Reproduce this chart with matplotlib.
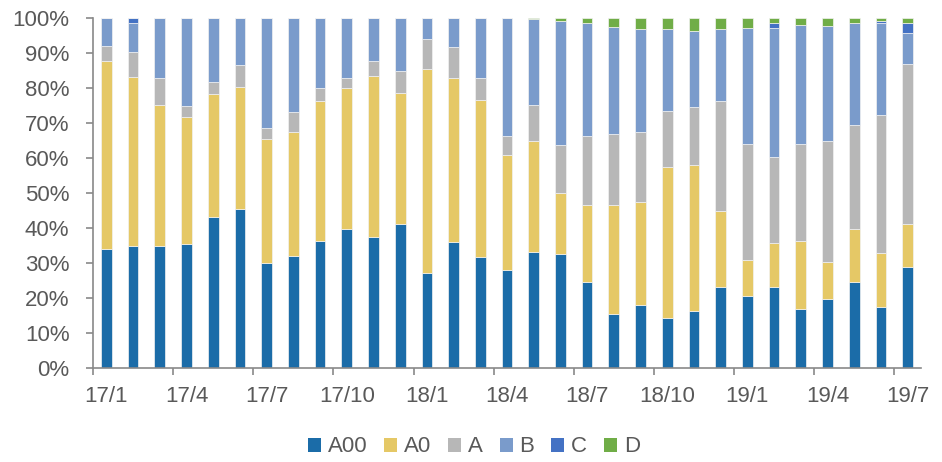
import numpy as np
import matplotlib
matplotlib.use("Agg")
import matplotlib.pyplot as plt
from matplotlib.patches import Patch

plt.rcParams['font.family'] = ['Liberation Sans', 'DejaVu Sans']

months = ['17/1', '17/2', '17/3', '17/4', '17/5', '17/6', '17/7', '17/8', '17/9', '17/10', '17/11', '17/12',
          '18/1', '18/2', '18/3', '18/4', '18/5', '18/6', '18/7', '18/8', '18/9', '18/10', '18/11', '18/12',
          '19/1', '19/2', '19/3', '19/4', '19/5', '19/6', '19/7']
tick_labels = ['17/1', '17/4', '17/7', '17/10', '18/1', '18/4', '18/7', '18/10', '19/1', '19/4', '19/7']

# share of each class, %
a00 = [33.9, 34.8, 34.9, 35.5, 43.2, 45.4, 30.1, 32.1, 36.2, 39.8, 37.3, 41.2, 27.2, 36.1, 31.6, 28.1,
       33.2, 32.5, 24.7, 15.5, 18.1, 14.4, 16.3, 23.2, 20.7, 23.2, 16.9, 19.7, 24.5, 17.3, 28.8]
a0 = [53.8, 48.4, 40.2, 36.3, 35.0, 34.9, 35.3, 35.2, 40.1, 40.3, 46.2, 37.4, 58.3, 46.7, 45.0, 32.8,
      31.7, 17.4, 22.0, 31.2, 29.2, 42.9, 41.6, 21.8, 10.1, 12.5, 19.4, 10.6, 15.2, 15.6, 12.4]
a = [4.2, 7.2, 7.7, 3.2, 3.6, 6.3, 3.2, 5.7, 3.7, 2.8, 4.2, 6.4, 8.5, 8.9, 6.3, 5.4,
     10.2, 13.8, 19.6, 20.2, 20.0, 16.1, 16.7, 31.4, 33.2, 24.6, 27.6, 34.6, 29.7, 39.4, 45.7]
b = [8.1, 8.3, 17.2, 25.0, 18.2, 13.4, 31.4, 27.0, 20.0, 17.1, 12.3, 15.0, 6.0, 8.3, 17.1, 33.7,
     24.6, 35.5, 32.3, 30.4, 29.6, 23.5, 21.6, 20.5, 33.2, 36.8, 34.0, 32.9, 29.2, 26.3, 8.8]
c = [0, 1.3, 0, 0, 0, 0, 0, 0, 0, 0, 0, 0, 0, 0, 0, 0,
     0, 0, 0, 0, 0, 0, 0, 0, 0, 1.4, 0, 0, 0, 0.6, 3.0]
d = [0, 0, 0, 0, 0, 0, 0, 0, 0, 0, 0, 0, 0, 0, 0, 0,
     0.3, 0.8, 1.4, 2.7, 3.1, 3.1, 3.8, 3.1, 2.8, 1.4, 2.1, 2.2, 1.4, 0.8, 1.3]

series = [('A00', a00, '#1b6ca8'), ('A0', a0, '#e5c866'), ('A', a, '#b7b7b7'),
          ('B', b, '#7a9bcb'), ('C', c, '#4472c4'), ('D', d, '#70ad47')]

fig = plt.figure(figsize=(9.42, 4.62), dpi=100)
ax = fig.add_axes([93 / 942, 1 - 368 / 462, (921 - 93) / 942, (368 - 18) / 462])

x = np.arange(len(months))
bottom = np.zeros(len(months))
for name, vals, col in series:
    vals = np.array(vals)
    ax.bar(x, vals, 0.4, bottom=bottom, color=col, edgecolor='#f2f2f2', linewidth=0.5)
    bottom += vals

ax.set_xlim(-0.5, len(months) - 0.5)
ax.set_ylim(0, 100)
ax.set_yticks(np.arange(0, 101, 10))
ax.set_yticklabels([f'{v}%' for v in range(0, 101, 10)])

# tick marks between categories, labels on the categories
ax.set_xticks(np.arange(-0.5, len(months) - 1, 3))
ax.set_xticklabels([])
ax.set_xticks(np.arange(0, len(months), 3), minor=True)
ax.set_xticklabels(tick_labels, minor=True)
ax.tick_params(axis='x', which='major', length=5, width=1.2, color='#898989', direction='out')
ax.tick_params(axis='x', which='minor', length=0, pad=13, labelsize=16, labelcolor='#595959')
ax.tick_params(axis='y', length=5, width=1.2, color='#898989', pad=12, labelsize=16, labelcolor='#595959')

for s in ['top', 'right']:
    ax.spines[s].set_visible(False)
for s in ['left', 'bottom']:
    ax.spines[s].set_color('#898989')
    ax.spines[s].set_linewidth(1.2)

handles = [Patch(facecolor=col, label=name) for name, _, col in series]
fig.legend(handles=handles, loc='center', bbox_to_anchor=(0.503, 1 - 447 / 462), ncol=6, frameon=False,
           fontsize=16, labelcolor='#595959', handlelength=0.6, handleheight=0.6,
           handletextpad=0.3, columnspacing=0.75)

fig.savefig('out.png', dpi=100)
